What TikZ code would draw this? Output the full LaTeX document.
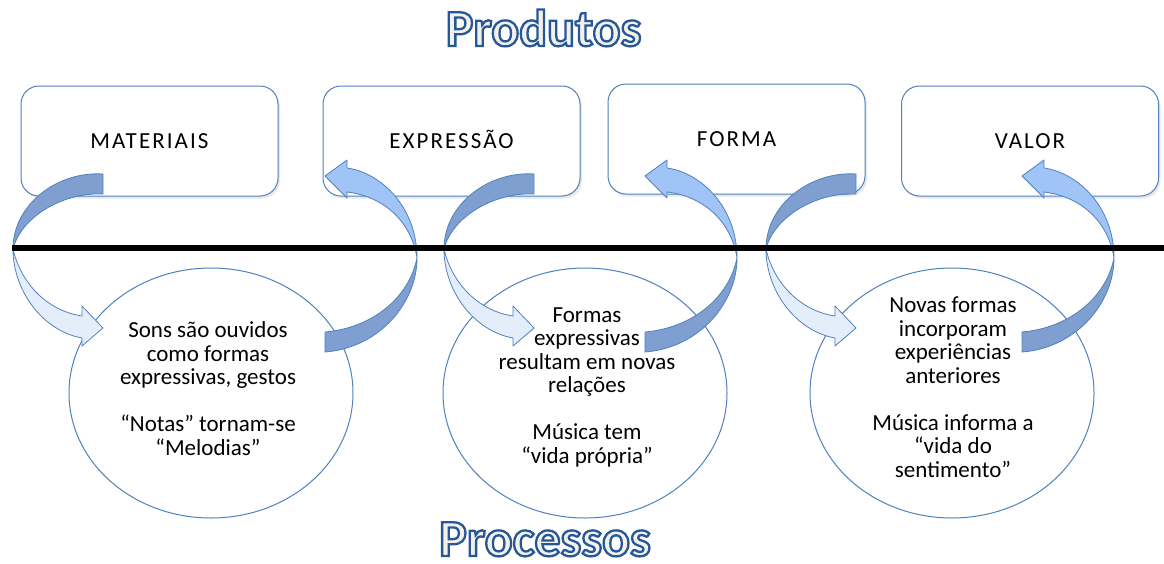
\documentclass[tikz,border=0pt]{standalone}
\usepackage{fontspec}
\setmainfont{Carlito}
\usetikzlibrary{shadows}
\definecolor{ol}{RGB}{79,129,189}
\definecolor{darkb}{RGB}{127,159,208}
\definecolor{midb}{RGB}{160,196,246}
\definecolor{lightb}{RGB}{228,238,251}
\definecolor{cream}{RGB}{244,242,232}
\newcommand\outl[1]{\special{pdf:literal direct q 2 Tr 2.3 w 0.15 0.34 0.60 RG}#1\special{pdf:literal direct Q}}
\tikzset{
  prodbox/.style={draw=ol, line width=1pt, fill=white, rounded corners=18pt,
    minimum width=257pt, minimum height=110pt, inner sep=0pt,
    text height=15pt, text depth=0pt,
    font=\fontsize{23}{23.5}\selectfont\addfontfeatures{LetterSpace=9},
    drop shadow={shadow xshift=2pt, shadow yshift=-2.5pt, opacity=0.18}},
  procell/.style={draw=ol, line width=1pt, fill=white},
  celltext/.style={align=center, anchor=base, inner sep=0pt,
    font=\fontsize{23}{23.5}\selectfont},
  ribbon/.style={draw=ol, line width=0.8pt, line join=round},
  titletext/.style={anchor=base, inner sep=0pt, text=cream,
    font=\fontsize{52}{54}\selectfont\bfseries}
}
\newcommand\leftcurl[1]{%
  \begin{scope}[shift={#1}]
    \filldraw[ribbon, fill=darkb] (90,-75) .. controls (45,-78) and (0,-45) .. (0,0)
      .. controls (8,-32) and (50,-57) .. (90,-55) -- cycle;
    \filldraw[ribbon, fill=lightb] (0,0) .. controls (0,42) and (30,82) .. (69,89)
      -- (69,97) -- (90,79) -- (69,57) -- (69,67)
      .. controls (35,62) and (8,35) .. (0,0) -- cycle;
  \end{scope}}
\newcommand\rightcurl[1]{%
  \begin{scope}[shift={#1}]
    \filldraw[ribbon, fill=midb] (0,0) .. controls (0,-50) and (-35,-85) .. (-70,-90)
      -- (-70,-98) -- (-92,-82) -- (-70,-60) -- (-70,-66)
      .. controls (-35,-62) and (-6,-38) .. (0,0) -- cycle;
    \filldraw[ribbon, fill=darkb] (0,0) .. controls (0,45) and (-38,90) .. (-92,94)
      -- (-92,74) .. controls (-45,70) and (-8,40) .. (0,0) -- cycle;
  \end{scope}}
\begin{document}
\begin{tikzpicture}[x=1pt, y=-1pt]
  \useasboundingbox (0,0) rectangle (1164,563);
  % product boxes
  \node[prodbox] (materiais) at (149.5,141) {MATERIAIS};
  \node[prodbox] (expressao) at (451.5,141) {EXPRESSÃO};
  \node[prodbox] (forma) at (736.5,139) {FORMA};
  \node[prodbox] (valor) at (1030,141) {VALOR};
  % process cells
  \coordinate (c1) at (211,393);
  \coordinate (c2) at (585,393);
  \coordinate (c3) at (952,393);
  \filldraw[procell] (c1) ellipse [x radius=142, y radius=125];
  \filldraw[procell] (c2) ellipse [x radius=142, y radius=125];
  \filldraw[procell] (c3) ellipse [x radius=142, y radius=125];
  \node[celltext] (t1) at (208,455) {Sons são ouvidos\\como formas\\expressivas, gestos\\[23.5pt]“Notas” tornam-se\\“Melodias”};
  \node[celltext] (t2) at (587,463) {Formas\\expressivas\\resultam em novas\\relações\\[23.5pt]Música tem\\“vida própria”};
  \node[celltext] (t3) at (953,477) {Novas formas\\incorporam\\experiências\\anteriores\\[23.5pt]Música informa a\\“vida do\\sentimento”};
  % curved arrows
  \leftcurl{(13,249)}
  \rightcurl{(417,258)}
  \leftcurl{(444,249)}
  \rightcurl{(737,258)}
  \leftcurl{(766,249)}
  \rightcurl{(1114,258)}
  % divider
  \coordinate (lineL) at (12,248);
  \coordinate (lineR) at (1164,248);
  \draw[line width=5.7pt] (lineL) -- (lineR);
  % titles
  \node[titletext] (produtos) at (543.5,46) {\outl{Produtos}};
  \node[titletext] (processos) at (545,556) {\outl{Processos}};
\end{tikzpicture}
\end{document}
